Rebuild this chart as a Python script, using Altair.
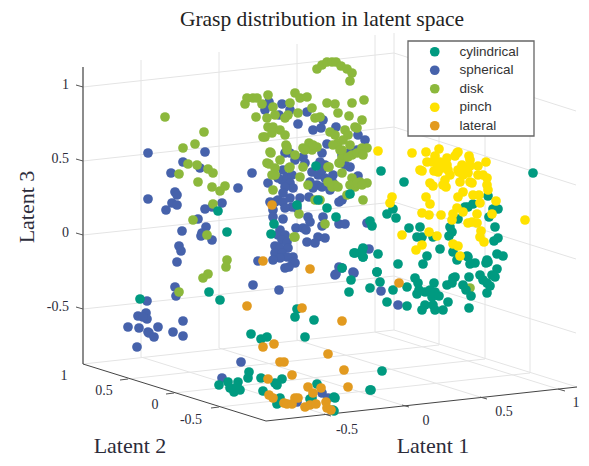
import altair as alt
import pandas as pd

# Projected positions of the points
cyl_x = [316,327,318,297,274,271,227,218,381,404,533,350,336,393,387,396,370,372,488,465,468,473,458,498,493,489,495,450,452,449,409,420,417,422,433,498,494,440,453,427,467,497,503,487,354,360,363,363,378,398,423,457,468,470,475,486,488,497,492,495,480,483,469,453,455,447,452,434,463,466,471,487,490,487,415,418,419,417,425,430,435,432,439,448,469,425,422,433,435,443,407,393,387,407,380,370,377,351,349,355,362,363,342,377,140,209,220,295,297,314,305,251,261,267,219,228,238,230,234,240,237,249,248,261,275,282,277,263,280,277,317,312,335,333,370,382,371,334,334,310]
cyl_y = [166,208,200,205,224,234,232,211,171,182,173,194,217,209,214,218,221,226,196,207,207,204,219,209,209,217,227,227,232,236,228,227,237,237,237,238,241,249,252,256,256,254,256,260,253,253,248,257,254,264,264,260,257,264,263,263,262,269,275,277,275,280,277,278,277,285,283,283,285,290,296,283,286,293,278,283,290,294,292,290,292,297,296,302,308,305,310,305,310,310,287,290,302,306,282,288,272,280,292,253,251,257,268,272,299,292,300,317,309,320,337,334,339,337,385,382,382,388,392,390,387,372,378,378,383,379,385,391,398,404,384,398,398,410,390,371,390,397,411,399]
sph_x = [148,205,183,200,171,252,175,177,148,238,172,177,166,205,212,222,198,206,182,202,201,212,179,181,177,175,176,147,253,279,258,138,146,147,143,128,139,158,148,149,154,183,173,183,137,241,222,322,297,328,269,282,265,290,279,307,298,313,321,323,336,327,358,365,350,357,285,290,322,268,283,282,287,292,290,293,278,285,303,305,295,312,318,322,325,310,317,313,322,330,333,325,320,333,342,339,350,345,342,355,358,309,283,278,275,283,290,292,300,285,297,270,273,273,283,308,310,323,322,339,345,296,303,306,367,280,278,285,282,287,275,280,288,275,282,293,287,280,273,293,295,285,289,318,325,315,307,369,353,339,335,381,398,354,342,336]
sph_y = [153,152,162,168,173,173,192,195,199,188,203,205,210,209,207,203,219,227,231,233,236,240,246,251,262,287,296,301,285,290,261,316,313,319,317,327,328,327,332,333,337,321,332,336,347,362,378,393,402,398,102,104,110,110,115,112,124,130,128,120,127,144,135,140,152,150,153,153,153,183,170,180,177,175,183,188,178,187,157,163,160,172,175,170,178,182,185,188,187,190,175,165,162,183,200,202,167,165,155,180,176,197,193,200,202,202,198,207,198,208,208,202,210,217,219,217,222,217,226,224,224,228,228,230,223,230,235,235,240,242,246,248,248,253,253,257,257,258,260,262,263,268,267,237,238,243,242,249,272,267,275,291,305,273,268,274]
dsk_x = [165,204,195,183,188,197,208,213,179,198,212,220,225,213,193,207,227,226,208,203,179,295,317,322,327,332,336,341,347,352,350,247,245,253,257,262,268,256,273,275,267,268,273,265,272,280,285,286,287,263,290,295,300,307,312,298,288,285,327,335,338,352,364,349,362,315,320,330,335,338,345,348,343,350,357,342,362,333,309,317,304,270,355,367,352,340,328,342,328,335,352,360,367,355,347,363,342,271,267,275,280,275,273,287,289,303,312,313,295,300,308,329,339,332,338,350,357,362,315,320,299,325,294,340,348,357,363,269,272,305,303,290,470]
dsk_y = [117,132,144,148,164,165,169,173,174,182,187,191,186,204,220,235,260,267,274,278,292,237,69,65,62,62,62,66,69,73,81,98,104,98,98,104,95,117,107,115,118,127,127,137,133,130,135,145,150,137,103,93,98,97,108,113,115,118,103,104,113,103,100,116,120,118,117,132,135,143,130,135,140,145,128,150,148,145,143,147,149,152,127,148,155,163,167,173,182,185,178,182,183,187,195,200,158,153,163,168,160,175,190,147,168,148,150,145,155,177,185,167,163,187,187,185,183,185,200,200,214,224,237,150,157,153,155,164,175,150,167,167,288]
pin_x = [412,426,439,435,427,432,447,440,447,437,442,448,457,458,455,469,470,486,478,470,462,459,465,468,463,458,420,422,434,438,450,445,443,446,430,433,460,470,472,478,483,487,487,488,463,458,473,479,480,426,430,496,422,429,441,453,457,463,452,477,492,468,472,477,481,480,484,525,429,437,402,422,416,453,458,460,392,390,378]
pin_y = [153,152,149,156,162,162,158,162,165,164,168,170,153,152,156,156,160,162,166,166,165,172,168,173,175,170,170,171,171,172,175,180,185,187,183,186,182,182,183,175,175,178,185,190,192,197,195,195,203,197,204,201,213,215,215,214,208,212,220,214,214,223,222,223,231,237,242,220,232,236,235,245,250,244,246,256,197,203,151]
lat_x = [272,263,310,247,302,274,263,280,284,328,292,268,308,321,313,269,273,284,287,292,295,298,305,310,316,326,327,344,348,342,399,331]
lat_y = [205,261,269,306,308,344,347,362,362,354,375,379,387,388,393,395,398,403,404,404,398,398,407,405,404,402,408,370,387,321,283,410]

classes = ["cylindrical", "spherical", "disk", "pinch", "lateral"]
colors = ["#009a80", "#4662ab", "#8cb83c", "#ffe200", "#e29a1f"]
draw_rank = [3, 1, 2, 4, 5]
series = [(cyl_x, cyl_y), (sph_x, sph_y), (dsk_x, dsk_y), (pin_x, pin_y), (lat_x, lat_y)]

rows = []
for name, rank, (xs, ys) in zip(classes, draw_rank, series):
    for a, b in zip(xs, ys):
        rows.append({"px": a, "py": b, "grasp": name, "rank": rank})
points = pd.DataFrame(rows).sort_values("rank", kind="stable")

# Box frame
wall_x = [141, 219, 297, 375, 394, 439, 485, 530]
wall_bottom = [357, 348, 340, 332, 330, 345, 359, 373]
wall_top = [60, 52, 44, 35, 33, 48, 62, 76]
zgrid_left = [87, 161, 235, 309]
zgrid_back = [53, 127, 202, 276]
zgrid_right = [111, 185, 259, 333]
floor_a = [(141,357,324,414), (219,348,402,405), (297,340,480,397), (375,332,558,389),
           (394,330,577,387), (128,379,439,345), (174,393,485,359), (219,407,530,373), (83,364,394,330)]
dark_axes = [(83,364,266,421), (266,421,577,387)]
ticks = [(324,414,331,416), (402,405,409,407), (480,397,487,399), (558,389,565,391),
         (128,379,120,380), (174,393,166,394), (219,407,211,408),
         (76,85,83,87), (76,159,83,161), (76,233,83,235), (76,307,83,309)]
legend_box = [(408, 41, 534, 136)]

grid = []
for a, b, c in zip(wall_x, wall_bottom, wall_top):
    grid.append((a, b, a, c))
for l, b, r in zip(zgrid_left, zgrid_back, zgrid_right):
    grid.append((83, l, 394, b))
    grid.append((394, b, 576, r))
grid += floor_a

def segs(lst):
    return pd.DataFrame(lst, columns=["x1", "y1", "x2", "y2"])

XDOM = [8, 581]
YDOM = [458, 8]
X = alt.X("x1:Q", scale=alt.Scale(domain=XDOM, nice=False, zero=False), axis=None)
Y = alt.Y("y1:Q", scale=alt.Scale(domain=YDOM, nice=False, zero=False), axis=None)
def rule(lst, color, w):
    return alt.Chart(segs(lst)).mark_rule(color=color, strokeWidth=w).encode(
        x=X, y=Y, x2="x2:Q", y2="y2:Q")

PX = alt.X("px:Q", scale=alt.Scale(domain=XDOM, nice=False, zero=False), axis=None)
PY = alt.Y("py:Q", scale=alt.Scale(domain=YDOM, nice=False, zero=False), axis=None)

scatter = alt.Chart(points).mark_circle(size=94, opacity=1).encode(
    x=PX, y=PY,
    color=alt.Color("grasp:N", scale=alt.Scale(domain=classes, range=colors),
                    legend=alt.Legend(orient="none", legendX=410, legendY=37, title=None,
                                      padding=0,
                                      symbolSize=94, symbolType="circle", symbolStrokeWidth=0,
                                      labelFont="Liberation Sans", labelFontSize=13.5,
                                      labelColor="#333333", labelOffset=18, symbolOffset=10,
                                      rowPadding=3.5)),
    order=alt.Order("rank:Q"))

box = alt.Chart(segs(legend_box)).mark_rect(fill="white", stroke="#666666", strokeWidth=1.3).encode(
    x=X, y=Y, x2="x2:Q", y2="y2:Q")

def text_layer(labels, xs, ys, size, align="center", angle=0, font="Liberation Serif", color="#2c2c3a"):
    df = pd.DataFrame({"t": labels, "px": xs, "py": ys})
    return alt.Chart(df).mark_text(font=font, fontSize=size, align=align, baseline="middle",
                                   angle=angle, color=color).encode(x=PX, y=PY, text="t:N")

title = text_layer(["Grasp distribution in latent space"], [322], [20], 21.5, color="#222222")
zlabels = text_layer(["1", "0.5", "0", "-0.5"], [69, 69, 69, 69], [85, 159, 233, 307], 14, align="right")
ylabels = text_layer(["1", "0.5", "0", "-0.5"], [64, 104, 155, 191], [376, 391, 405, 420], 14)
xlabels = text_layer(["-0.5", "0", "0.5", "1"], [347, 426, 504, 576], [430, 421, 412, 403], 14)
lab1 = text_layer(["Latent 1"], [433], [446], 22)
lab2 = text_layer(["Latent 2"], [130], [446], 22)
lab3 = text_layer(["Latent 3"], [27], [207], 22, angle=270)

chart = alt.layer(
    rule(grid, "#e4e4e4", 1),
    rule([(83, 67, 83, 364)], "#666666", 1.5),
    rule(dark_axes, "#444444", 1),
    rule(ticks, "#555555", 1),
    scatter, box, title, zlabels, ylabels, xlabels, lab1, lab2, lab3,
).properties(width=573, height=450, padding=0, autosize=alt.AutoSizeParams(type="none")
).configure_view(stroke=None)

chart.save("out.html", embed_options={"renderer": "svg", "actions": False})
